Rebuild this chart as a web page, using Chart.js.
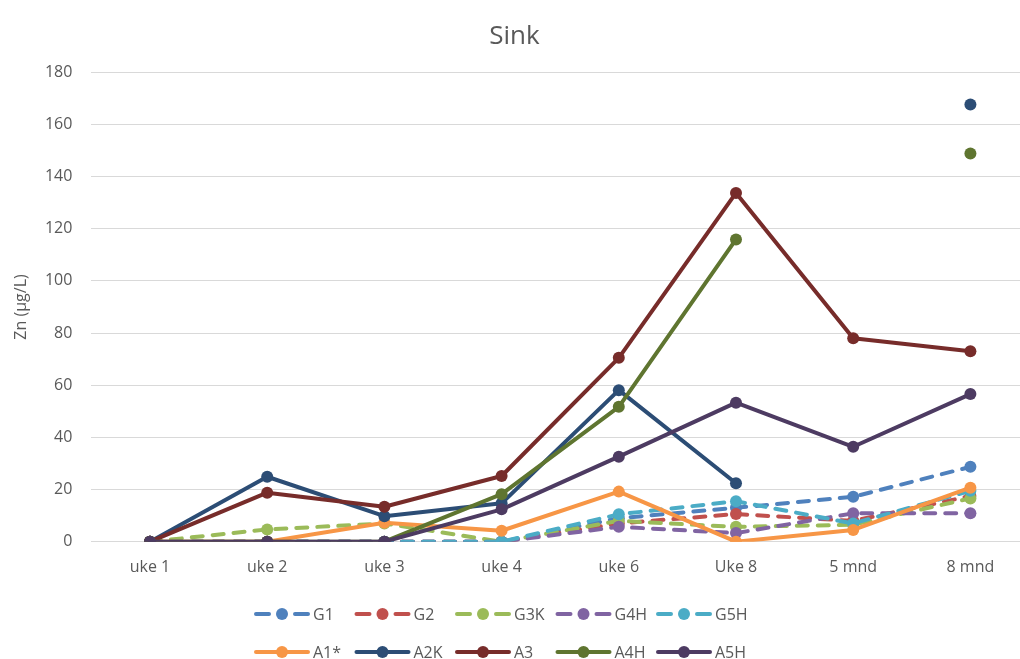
<!DOCTYPE html>
<html>
<head>
<meta charset="utf-8">
<script src="https://cdn.jsdelivr.net/npm/chart.js@4/dist/chart.umd.min.js"></script>
<style>
  html, body { margin: 0; padding: 0; background: #fff; overflow: hidden; }
  #wrap { position: relative; width: 1040px; height: 659px; }
</style>
</head>
<body>
<div id="wrap"><canvas id="c"></canvas></div>
<script>
// Sampling times
const labels = ['uke 1', 'uke 2', 'uke 3', 'uke 4', 'uke 6', 'Uke 8', '5 mnd', '8 mnd'];

// Zn concentrations (µg/L) per sampling point
const G1  = [0, 0, 0, 0, 9, 13, 17.2, 28.7];
const G2  = [0, 0, 0, 0, 7, 10.6, 8, 17.5];
const G3K = [0, 4.7, 7, 0, 8, 5.7, 6.5, 16.6];
const G4H = [0, 0, 0, 0, 5.7, 3.3, 10.9, 10.9];
const G5H = [0, 0, 0, 0, 10.5, 15.5, 7, 19.5];
const A1  = [0, 0, 7.3, 4.2, 19.2, 0, 4.5, 20.7];
const A2K = [0, 24.9, 9.8, 14.7, 58.1, 22.4, null, 167.6];
const A3  = [0, 18.8, 13.4, 25.2, 70.5, 133.7, 78, 73];
const A4H = [0, 0, 0, 18.2, 51.7, 115.9, null, 148.8];
const A5H = [0, 0, 0, 12.4, 32.6, 53.3, 36.4, 56.6];

const yTicks = [0, 20, 40, 60, 80, 100, 120, 140, 160, 180];

const seriesNames = ['G1', 'G2', 'G3K', 'G4H', 'G5H', 'A1*', 'A2K', 'A3', 'A4H', 'A5H'];
const seriesData  = [G1, G2, G3K, G4H, G5H, A1, A2K, A3, A4H, A5H];
const seriesColors = ['#4F81BD', '#C0504D', '#9BBB59', '#8064A2', '#4BACC6',
                      '#F79646', '#2C4D75', '#772C2A', '#5F7530', '#4D3B62'];
const seriesDashed = [true, true, true, true, true, false, false, false, false, false];

const FONT = '"Open Sans", "Liberation Sans", sans-serif';
const TXT = '#595959';
const DASH = [11, 10];

const datasets = seriesNames.map((name, i) => ({
  label: name,
  data: seriesData[i],
  borderColor: seriesColors[i],
  backgroundColor: seriesColors[i],
  pointBackgroundColor: seriesColors[i],
  pointBorderColor: seriesColors[i],
  borderWidth: 4,
  borderDash: seriesDashed[i] ? DASH : [],
  borderCapStyle: 'round',
  borderJoinStyle: 'round',
  pointRadius: 6,
  pointBorderWidth: 0,
  pointHoverRadius: 6,
  tension: 0,
  spanGaps: false,
  fill: false,
  // later series sit on top
  order: seriesNames.length - 1 - i
}));

// Two-row legend with line + marker samples
const lineLegend = {
  id: 'lineLegend',
  afterDraw(chart) {
    const ctx = chart.ctx;
    const cols = 5, colStep = 100.5, x0 = 254;
    const rowY = [614, 652];
    ctx.save();
    chart.data.datasets.forEach((ds, i) => {
      const row = Math.floor(i / cols), col = i % cols;
      const x = x0 + col * colStep, y = rowY[row];
      const dashed = ds.borderDash && ds.borderDash.length;
      ctx.strokeStyle = ds.borderColor;
      ctx.lineWidth = 4;
      ctx.lineCap = 'round';
      ctx.setLineDash([]);
      ctx.beginPath();
      if (dashed) {
        ctx.moveTo(x + 2, y); ctx.lineTo(x + 15, y);
        ctx.moveTo(x + 41, y); ctx.lineTo(x + 54, y);
      } else {
        ctx.moveTo(x + 2, y); ctx.lineTo(x + 54, y);
      }
      ctx.stroke();
      ctx.fillStyle = ds.pointBackgroundColor;
      ctx.beginPath();
      ctx.arc(x + 28, y, 6, 0, Math.PI * 2);
      ctx.fill();
      ctx.fillStyle = TXT;
      ctx.font = '16px ' + FONT;
      ctx.textAlign = 'left';
      ctx.textBaseline = 'middle';
      ctx.fillText(ds.label, x + 59, y + 1);
    });
    ctx.restore();
  }
};

new Chart(document.getElementById('c'), {
  type: 'line',
  data: { labels, datasets },
  plugins: [lineLegend],
  options: {
    responsive: true,
    maintainAspectRatio: false,
    animation: false,
    events: [],
    layout: { padding: { top: 11, right: 11, bottom: 0, left: 0 } },
    plugins: {
      legend: { display: false },
      tooltip: { enabled: false },
      title: {
        display: true,
        text: 'Sink',
        color: TXT,
        font: { family: FONT, size: 26, weight: 'normal', lineHeight: 1.2 },
        padding: { top: 10, bottom: 20 }
      }
    },
    scales: {
      x: {
        offset: true,
        grid: { display: false, drawTicks: false },
        border: { display: true, color: '#D9D9D9', width: 1 },
        ticks: {
          color: TXT,
          font: { family: FONT, size: 16 },
          padding: 16,
          maxRotation: 0,
          autoSkip: false
        },
        afterFit(scale) { scale.height = 117.3; }
      },
      y: {
        min: 0,
        max: 180,
        afterBuildTicks(scale) { scale.ticks = yTicks.map(v => ({ value: v })); },
        grid: { color: '#D9D9D9', lineWidth: 1, drawTicks: false },
        border: { display: false },
        ticks: {
          color: TXT,
          font: { family: FONT, size: 16 },
          padding: 19
        },
        title: {
          display: true,
          text: 'Zn (µg/L)',
          color: TXT,
          font: { family: FONT, size: 16 },
          padding: { top: 12, bottom: 0 }
        },
        afterFit(scale) { scale.width = 91.4; }
      }
    }
  }
});
</script>
</body>
</html>
